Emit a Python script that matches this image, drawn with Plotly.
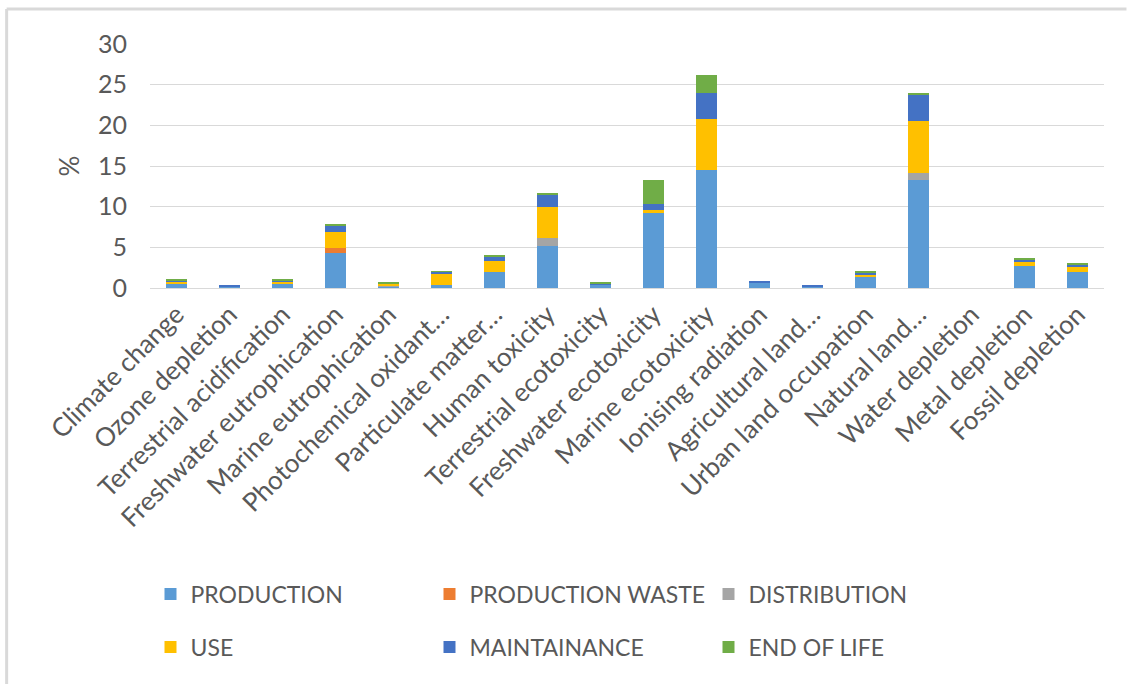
import plotly.graph_objects as go

# Impact categories (x axis)
categories = [
    "Climate change", "Ozone depletion", "Terrestrial acidification",
    "Freshwater eutrophication", "Marine eutrophication",
    "Photochemical oxidant…", "Particulate matter…", "Human toxicity",
    "Terrestrial ecotoxicity", "Freshwater ecotoxicity", "Marine ecotoxicity",
    "Ionising radiation", "Agricultural land…", "Urban land occupation",
    "Natural land…", "Water depletion", "Metal depletion", "Fossil depletion",
]

# Contribution of each life-cycle stage, in %
production = [0.45, 0.2, 0.45, 4.35, 0.2, 0.37, 2.02, 5.2, 0.45, 9.17, 14.45, 0.69, 0.2, 1.39, 13.34, 0, 2.7, 1.97]
production_waste = [0, 0, 0, 0.6, 0, 0, 0, 0, 0, 0, 0, 0, 0, 0, 0, 0, 0, 0]
distribution = [0, 0, 0, 0, 0.1, 0, 0, 0.95, 0, 0, 0, 0, 0, 0, 0.74, 0, 0, 0]
use = [0.35, 0, 0.35, 1.97, 0.25, 1.3, 1.32, 3.75, 0, 0.37, 6.32, 0, 0, 0.25, 6.48, 0, 0.58, 0.69]
maintainance = [0.1, 0.1, 0.1, 0.73, 0.05, 0.3, 0.58, 1.54, 0.15, 0.74, 3.2, 0.2, 0.1, 0.24, 3.24, 0, 0.24, 0.24]
end_of_life = [0.1, 0, 0.1, 0.2, 0.15, 0.1, 0.17, 0.16, 0.1, 2.98, 2.21, 0, 0, 0.12, 0.13, 0, 0.13, 0.17]

y_ticks = [0, 5, 10, 15, 20, 25, 30]

series = [
    ("PRODUCTION", production, "#5b9bd5", "legend"),
    ("PRODUCTION WASTE", production_waste, "#ed7d31", "legend"),
    ("DISTRIBUTION", distribution, "#a5a5a5", "legend"),
    ("USE", use, "#ffc000", "legend2"),
    ("MAINTAINANCE", maintainance, "#4472c4", "legend2"),
    ("END OF LIFE", end_of_life, "#70ad47", "legend2"),
]

FONT = "Lato"
GREY = "#595959"
W, H = 1127, 684
L, R, T, B = 149.5, 22.5, 44, 396
PW, PH = W - L - R, H - T - B


def px_x(px):
    return (px - L) / PW


def px_y(py):
    return (H - B - py) / PH


fig = go.Figure()
for name, vals, color, leg in series:
    fig.add_trace(go.Bar(
        x=categories, y=vals, name=name, legend=leg,
        marker=dict(color=color, line=dict(width=0)),
    ))

legend_common = dict(
    orientation="h", entrywidth=234, entrywidthmode="pixels",
    traceorder="normal",
    font=dict(family=FONT, size=23, color=GREY),
    xanchor="left", yanchor="middle", bgcolor="rgba(0,0,0,0)",
    itemclick=False, itemdoubleclick=False,
)

fig.update_layout(
    width=W, height=H,
    margin=dict(l=L, r=R, t=T, b=B, autoexpand=False),
    paper_bgcolor="white", plot_bgcolor="white",
    barmode="stack", bargap=0.6,
    font=dict(family=FONT, color=GREY),
    showlegend=True,
    legend=dict(x=px_x(150), y=px_y(594), **legend_common),
    legend2=dict(x=px_x(150), y=px_y(647), **legend_common),
    xaxis=dict(
        tickangle=-45, tickfont=dict(family=FONT, size=26, color=GREY),
        showline=True, linecolor="#d9d9d9", linewidth=1,
        showgrid=False, ticks="", fixedrange=True,
    ),
    yaxis=dict(
        range=[0, 30], tickvals=y_ticks,
        tickfont=dict(family=FONT, size=25, color=GREY),
        gridcolor="#d9d9d9", gridwidth=1, zeroline=False,
        ticks="", ticklabelstandoff=22, fixedrange=True,
        title=dict(text="%", font=dict(family=FONT, size=26, color=GREY), standoff=10),
    ),
    shapes=[
        dict(type="line", xref="paper", yref="paper",
             x0=px_x(6), x1=px_x(W), y0=px_y(9), y1=px_y(9),
             line=dict(color="#d9d9d9", width=3)),
        dict(type="line", xref="paper", yref="paper",
             x0=px_x(6), x1=px_x(6), y0=px_y(9), y1=px_y(H),
             line=dict(color="#d9d9d9", width=3)),
    ],
)

fig.write_html("out.html", config={"displayModeBar": False})
